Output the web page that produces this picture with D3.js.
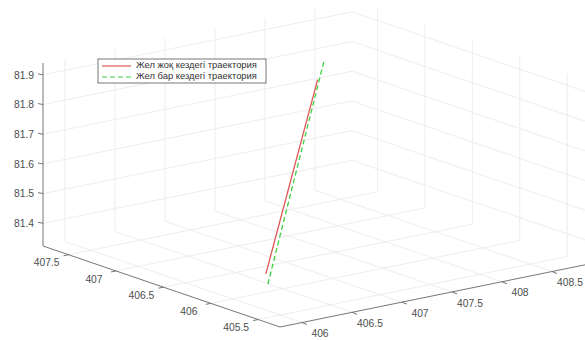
<!DOCTYPE html>
<html>
<head>
<meta charset="utf-8">
<script src="https://cdn.jsdelivr.net/npm/d3@7"></script>
<style>
  body { margin: 0; background: #fff; }
  text { font-family: "Liberation Sans", Arial, sans-serif; }
</style>
</head>
<body>
<div id="chart"></div>
<script>
// --- data ---
const xTicks = [406, 406.5, 407, 407.5, 408, 408.5];
const yTicks = [405.5, 406, 406.5, 407, 407.5];
const zTicks = [81.4, 81.5, 81.6, 81.7, 81.8, 81.9];

const xLim = [405.78, 408.87];
const yLim = [405.27, 407.77];
const zLim = [81.3235, 81.94];

// trajectory without wind (red) / with wind (green dashed)
const trajNoWindX = [406.52, 407.36];
const trajNoWindY = [406.20, 406.54];
const trajNoWindZ = [81.35, 81.91];

const trajWindX = [406.455, 407.565];
const trajWindY = [406.11, 406.69];
const trajWindZ = [81.33, 81.94];

const seriesNames = ["Жел жоқ кездегі траектория", "Жел бар кездегі траектория"];

const width = 585, height = 340;

// normalized box coordinates
const sx = d3.scaleLinear().domain(xLim).range([0, 1]);
const sy = d3.scaleLinear().domain(yLim).range([0, 1]);
const sz = d3.scaleLinear().domain(zLim).range([0, 1]);

// projection of the unit box onto the screen (front-bottom corner = origin)
const origin = [280, 327];
const U = [309, -63];   // x direction
const V = [-237, -81];  // y direction
const W = [0, -183];    // z direction

function proj(x, y, z) {
  const u = sx(x), v = sy(y), w = sz(z);
  return [origin[0] + u * U[0] + v * V[0] + w * W[0],
          origin[1] + u * U[1] + v * V[1] + w * W[1]];
}

const svg = d3.select("#chart").append("svg")
  .attr("width", width).attr("height", height);

const line = d3.line();
const gridCol = "#e8e8e8", axisCol = "#666", textCol = "#4d4d4d";

const grid = svg.append("g").attr("class", "grid")
  .attr("stroke", gridCol).attr("stroke-width", 0.8).attr("fill", "none");

// floor z = zmin
xTicks.forEach(t => grid.append("path").attr("d", line([proj(t, yLim[0], zLim[0]), proj(t, yLim[1], zLim[0])])));
yTicks.forEach(t => grid.append("path").attr("d", line([proj(xLim[0], t, zLim[0]), proj(xLim[1], t, zLim[0])])));
// back-left wall y = ymax
xTicks.forEach(t => grid.append("path").attr("d", line([proj(t, yLim[1], zLim[0]), proj(t, yLim[1], zLim[1])])));
zTicks.forEach(t => grid.append("path").attr("d", line([proj(xLim[0], yLim[1], t), proj(xLim[1], yLim[1], t)])));
// back-right wall x = xmax
yTicks.forEach(t => grid.append("path").attr("d", line([proj(xLim[1], t, zLim[0]), proj(xLim[1], t, zLim[1])])));
zTicks.forEach(t => grid.append("path").attr("d", line([proj(xLim[1], yLim[0], t), proj(xLim[1], yLim[1], t)])));

// axes lines
const axes = svg.append("g").attr("class", "axes")
  .attr("stroke", axisCol).attr("stroke-width", 0.9).attr("fill", "none");
axes.append("path").attr("d", line([proj(xLim[0], yLim[0], zLim[0]), proj(xLim[1], yLim[0], zLim[0])]));
axes.append("path").attr("d", line([proj(xLim[0], yLim[0], zLim[0]), proj(xLim[0], yLim[1], zLim[0])]));
axes.append("path").attr("d", line([proj(xLim[0], yLim[1], zLim[0]), proj(xLim[0], yLim[1], zLim[1])]));

const labels = svg.append("g").attr("font-size", 10.3).attr("fill", textCol);

// x ticks (point toward front, -y direction)
xTicks.forEach(t => {
  const p = proj(t, yLim[0], zLim[0]);
  axes.append("path").attr("d", line([p, [p[0] + 5, p[1] + 2]]));
  labels.append("text").attr("x", p[0] + 18).attr("y", p[1] + 12)
    .attr("text-anchor", "middle").attr("dominant-baseline", "middle").text(t);
});
// y ticks (point left, -x direction)
yTicks.forEach(t => {
  const p = proj(xLim[0], t, zLim[0]);
  axes.append("path").attr("d", line([p, [p[0] - 5, p[1] + 1]]));
  labels.append("text").attr("x", p[0] - 22).attr("y", p[1] + 9)
    .attr("text-anchor", "middle").attr("dominant-baseline", "middle").text(t);
});
// z ticks
zTicks.forEach(t => {
  const p = proj(xLim[0], yLim[1], t);
  axes.append("path").attr("d", line([p, [p[0] - 5, p[1] - 1]]));
  labels.append("text").attr("x", p[0] - 9).attr("y", p[1] + 1)
    .attr("text-anchor", "end").attr("dominant-baseline", "middle").text(t);
});

// trajectories
const pts = (X, Y, Z) => X.map((x, i) => proj(x, Y[i], Z[i]));
svg.append("path").attr("d", line(pts(trajNoWindX, trajNoWindY, trajNoWindZ)))
  .attr("fill", "none").attr("stroke", "#e05656").attr("stroke-width", 1.3);
svg.append("path").attr("d", line(pts(trajWindX, trajWindY, trajWindZ)))
  .attr("fill", "none").attr("stroke", "#3fd03f").attr("stroke-width", 1.3)
  .attr("stroke-dasharray", "5,3");

// legend
const leg = svg.append("g").attr("transform", "translate(98,59)");
leg.append("rect").attr("width", 168).attr("height", 24)
  .attr("fill", "#fff").attr("stroke", "#555").attr("stroke-width", 0.8);
const legStyles = [
  { stroke: "#e05656", dash: null },
  { stroke: "#3fd03f", dash: "5,3" }
];
seriesNames.forEach((name, i) => {
  const yy = 7 + i * 11;
  leg.append("line").attr("x1", 4).attr("x2", 33).attr("y1", yy).attr("y2", yy)
    .attr("stroke", legStyles[i].stroke).attr("stroke-width", 1.2)
    .attr("stroke-dasharray", legStyles[i].dash);
  leg.append("text").attr("x", 38).attr("y", yy).attr("dominant-baseline", "middle")
    .attr("font-size", 9.4).attr("fill", "#333").text(name);
});
</script>
</body>
</html>
